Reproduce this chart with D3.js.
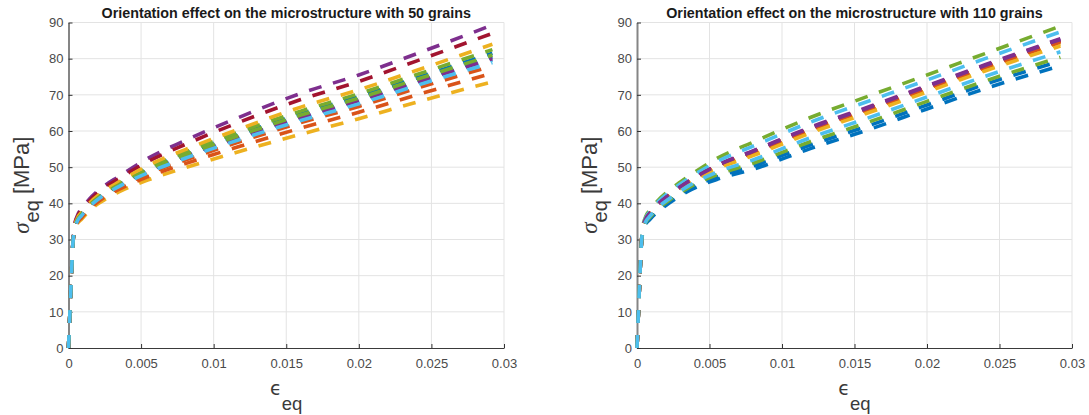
<!DOCTYPE html>
<html>
<head>
<meta charset="utf-8">
<script src="https://cdn.jsdelivr.net/npm/d3@7"></script>
<style>
  body { margin: 0; background: #fff; }
  svg { display: block; font-family: "Liberation Sans", Arial, sans-serif; }
</style>
</head>
<body>
<svg id="chart"></svg>
<script>
const strain = [0, 0.0001, 0.0002, 0.0003, 0.0004, 0.0006, 0.0009, 0.0014, 0.0022, 0.0035, 0.0055, 0.008, 0.012, 0.016, 0.02, 0.024, 0.0292];
const xTicks = [0, 0.005, 0.01, 0.015, 0.02, 0.025, 0.03];
const yTicks = [0, 10, 20, 30, 40, 50, 60, 70, 80, 90];
const colors = ["#0072BD", "#D95319", "#EDB120", "#7E2F8E", "#77AC30", "#4DBEEE", "#A2142F"];
const titles = [
  "Orientation effect on the microstructure with 50 grains",
  "Orientation effect on the microstructure with 110 grains",
];

// equivalent stress [MPa] at each strain value, one row per orientation
const stress50 = [
  [0, 10, 20, 28.8, 32.8, 35.4, 37.1, 39.4, 42.2, 45.4, 49.5, 53.6, 59.4, 64.8, 69.5, 74.7, 81.5],
  [0, 10, 20, 28.6, 32.4, 34.9, 36.4, 38.7, 41.3, 44.4, 48.2, 51.9, 57.3, 62.3, 66.8, 71.8, 78],
  [0, 10, 20, 28.5, 32, 34.3, 35.6, 37.8, 40.3, 43.2, 46.5, 49.8, 54.6, 59.1, 63.4, 68, 73.6],
  [0, 10, 20, 29, 33.5, 36.5, 38.5, 41, 44, 47.5, 52.5, 57.3, 64.2, 70.4, 75.5, 81.4, 89.3],
  [0, 10, 20, 28.8, 32.9, 35.6, 37.3, 39.6, 42.4, 45.7, 49.9, 54.1, 60.1, 65.5, 70.3, 75.6, 82.5],
  [0, 10, 20, 28.7, 32.6, 35.1, 36.7, 39, 41.7, 44.8, 48.8, 52.7, 58.3, 63.4, 68, 73.1, 79.6],
  [0, 10, 20, 28.9, 33.3, 36.2, 38.1, 40.5, 43.5, 46.9, 51.6, 56.2, 62.8, 68.7, 73.7, 79.4, 87],
  [0, 10, 20, 28.7, 32.7, 35.3, 36.9, 39.2, 41.9, 45.1, 49.1, 53.1, 58.8, 64.1, 68.7, 73.9, 80.5],
  [0, 10, 20, 28.6, 32.2, 34.6, 36, 38.3, 40.9, 43.9, 47.4, 50.9, 56, 60.8, 65.2, 70, 76],
  [0, 10, 20, 28.8, 33, 35.8, 37.5, 39.9, 42.7, 46, 50.5, 54.8, 60.9, 66.6, 71.4, 76.8, 84],
  [0, 10, 20, 28.7, 32.6, 35.2, 36.8, 39.1, 41.8, 45, 49, 52.9, 58.5, 63.7, 68.4, 73.5, 80],
  [0, 10, 20, 28.7, 32.7, 35.3, 37, 39.3, 42, 45.2, 49.3, 53.3, 59.1, 64.4, 69.1, 74.3, 81],
  [0, 10, 20, 28.7, 32.5, 35, 36.6, 38.9, 41.6, 44.7, 48.5, 52.4, 57.9, 62.9, 67.5, 72.6, 78.9],
];

const stress110 = [
  [0, 10, 20, 28.5, 32, 34.2, 35.6, 37.6, 40, 43.3, 46.6, 49.4, 55.2, 60.4, 66.1, 71.7, 78],
  [0, 10, 20, 28.8, 32.9, 35.5, 37.2, 39.5, 42.2, 45.8, 50.2, 54.1, 60.5, 66.2, 71.9, 77.7, 84.8],
  [0, 10, 20, 28.8, 32.8, 35.4, 37, 39.3, 41.9, 45.5, 49.8, 53.5, 59.9, 65.5, 71.3, 77, 84.1],
  [0, 10, 20, 28.8, 33, 35.6, 37.4, 39.6, 42.4, 46, 50.5, 54.5, 61.1, 66.7, 72.5, 78.3, 85.5],
  [0, 10, 20, 29, 33.5, 36.3, 38.2, 40.6, 43.5, 47.3, 52.4, 56.9, 63.8, 69.7, 75.5, 81.4, 89],
  [0, 10, 20, 28.9, 33.3, 36, 37.8, 40.2, 43, 46.7, 51.5, 55.8, 62.5, 68.3, 74.1, 80, 87.4],
  [0, 10, 20, 28.8, 33, 35.5, 37.3, 39.5, 42.2, 45.9, 50.3, 54.2, 60.7, 66.4, 72.1, 77.9, 85],
  [0, 10, 20, 28.6, 32.2, 34.5, 35.9, 38, 40.4, 43.8, 47.3, 50.3, 56.2, 61.5, 67.2, 72.9, 79.3],
  [0, 10, 20, 28.8, 32.9, 35.5, 37.2, 39.4, 42.1, 45.7, 50.1, 53.9, 60.4, 66, 71.7, 77.5, 84.6],
  [0, 10, 20, 28.8, 32.8, 35.3, 36.9, 39.1, 41.8, 45.3, 49.5, 53.2, 59.5, 65.1, 70.8, 76.6, 83.5],
  [0, 10, 20, 28.8, 33, 35.6, 37.3, 39.6, 42.3, 45.9, 50.4, 54.4, 60.9, 66.5, 72.3, 78.1, 85.3],
  [0, 10, 20, 28.6, 32.3, 34.7, 36.2, 38.3, 40.8, 44.2, 47.9, 51.1, 57.1, 62.5, 68.2, 73.8, 80.4],
  [0, 10, 20, 28.7, 32.5, 34.9, 36.5, 38.7, 41.2, 44.7, 48.6, 52, 58.2, 63.7, 69.4, 75.1, 81.9],
];

const size = { width: 1089, height: 415 };
const margin = { top: 22.5, bottom: 348 };

const panels = [
  { left: 68.5, right: 504, data: stress50, title: titles[0] },
  { left: 637, right: 1072, data: stress110, title: titles[1] },
];

const svg = d3.select("#chart").attr("width", size.width).attr("height", size.height);

panels.forEach((p) => {
  const x = d3.scaleLinear().domain([0, 0.03]).range([p.left, p.right]);
  const y = d3.scaleLinear().domain([0, 90]).range([margin.bottom, margin.top]);
  const cx = (p.left + p.right) / 2;
  const cy = (margin.top + margin.bottom) / 2;
  const g = svg.append("g");

  g.append("g")
    .selectAll("line")
    .data(xTicks.slice(1))
    .join("line")
    .attr("x1", (d) => x(d))
    .attr("x2", (d) => x(d))
    .attr("y1", margin.top)
    .attr("y2", margin.bottom)
    .attr("stroke", "#e3e3e3")
    .attr("stroke-width", 1);

  g.append("g")
    .selectAll("line")
    .data(yTicks.slice(1))
    .join("line")
    .attr("x1", p.left)
    .attr("x2", p.right)
    .attr("y1", (d) => y(d))
    .attr("y2", (d) => y(d))
    .attr("stroke", "#e3e3e3")
    .attr("stroke-width", 1);

  const xAxis = g
    .append("g")
    .attr("transform", `translate(0, ${margin.bottom})`)
    .call(d3.axisBottom(x).tickValues(xTicks).tickFormat(String).tickSizeInner(-4).tickSizeOuter(0).tickPadding(11));

  const yAxis = g
    .append("g")
    .attr("transform", `translate(${p.left}, 0)`)
    .call(d3.axisLeft(y).tickValues(yTicks).tickSizeInner(-4).tickSizeOuter(0).tickPadding(5));

  [xAxis, yAxis].forEach((a) => {
    a.selectAll("text").attr("font-size", 13).attr("fill", "#4a4a4a").attr("font-family", "Liberation Sans, Arial, sans-serif");
    a.selectAll(".tick line").attr("stroke", "#333");
  });
  xAxis.select(".domain").attr("stroke", "#3a3a3a").attr("stroke-width", 1.2);
  yAxis.select(".domain").attr("stroke", "#858585").attr("stroke-width", 2);

  const line = d3
    .line()
    .x((d, i) => x(strain[i]))
    .y((d) => y(d))
    .curve(d3.curveMonotoneX);

  g.append("g")
    .attr("fill", "none")
    .attr("stroke-width", 3.6)
    .attr("stroke-dasharray", "13,12")
    .selectAll("path")
    .data(p.data)
    .join("path")
    .attr("stroke", (d, i) => colors[i % colors.length])
    .attr("d", line);

  g.append("text")
    .attr("x", cx)
    .attr("y", 18)
    .attr("text-anchor", "middle")
    .attr("font-weight", "bold")
    .attr("font-size", 14.3)
    .attr("fill", "#1a1a1a")
    .text(p.title);

  const xl = g.append("text").attr("x", cx).attr("y", 395).attr("text-anchor", "middle").attr("fill", "#3a3a3a");
  xl.append("tspan").attr("font-family", "DejaVu Sans").attr("font-size", 19).text("ϵ");
  xl.append("tspan").attr("font-size", 18.5).attr("dy", 15).text("eq");

  const yl = g
    .append("text")
    .attr("transform", `translate(${p.left - 40}, ${cy}) rotate(-90)`)
    .attr("text-anchor", "middle")
    .attr("fill", "#3a3a3a");
  yl.append("tspan").attr("font-family", "Liberation Serif").attr("font-style", "italic").attr("font-size", 23).text("σ");
  yl.append("tspan").attr("font-size", 20).attr("dy", 10).text("eq");
  yl.append("tspan").attr("font-size", 22).attr("dy", -10).text(" [MPa]");
});
</script>
</body>
</html>
